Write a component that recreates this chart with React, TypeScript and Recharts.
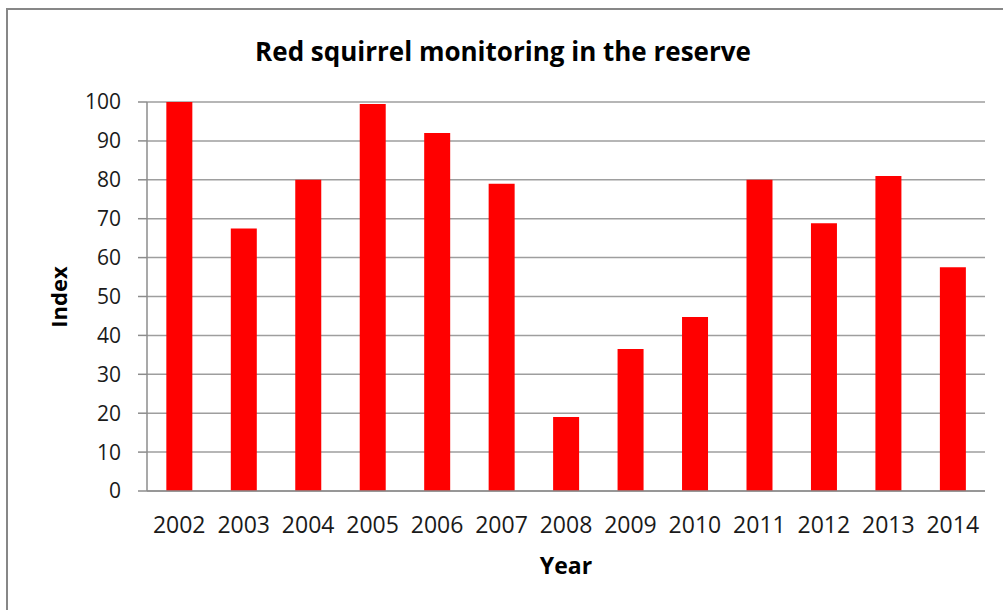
import React from "react";
import { BarChart, Bar, XAxis, YAxis, CartesianGrid } from "recharts";

// Survey years and the annual population index
const years = ["2002", "2003", "2004", "2005", "2006", "2007", "2008", "2009", "2010", "2011", "2012", "2013", "2014"];
const indexValues = [100, 67.5, 80, 99.5, 92, 79, 19, 36.5, 44.7, 80, 68.8, 81, 57.5];
const yTicks = [0, 10, 20, 30, 40, 50, 60, 70, 80, 90, 100];
// Category boundaries, where the tick marks of the x axis sit
const boundaryTicks = [0, 1, 2, 3, 4, 5, 6, 7, 8, 9, 10, 11, 12, 13];

const data = years.map((year, i) => ({ year, index: indexValues[i], pos: i + 0.5 }));

const FONT = "'Open Sans', 'Noto Sans', sans-serif";
const AXIS_GREY = "#8c8c8c";
const GRID_GREY = "#9e9e9e";

export default function App() {
  return (
    <div style={{ position: "absolute", left: 0, top: 0, width: 1003, height: 610, overflow: "hidden", background: "#fff" }}>
      {/* chart frame */}
      <div
        style={{
          position: "absolute",
          left: 6,
          top: 8,
          width: 1100,
          height: 700,
          border: "2px solid #878787",
          boxSizing: "border-box",
        }}
      />
      <div style={{ position: "absolute", left: 0, top: 0 }}>
        <BarChart
          width={1003}
          height={610}
          data={data}
          margin={{ top: 102, right: 18, bottom: 89, left: 87 }}
          barCategoryGap="30%"
        >
          <CartesianGrid vertical={false} stroke={GRID_GREY} strokeWidth={1.5} />
          <XAxis
            dataKey="year"
            xAxisId="cat"
            height={30}
            axisLine={{ stroke: AXIS_GREY, strokeWidth: 1.5 }}
            tickLine={false}
            tickSize={6}
            tickMargin={20}
            interval={0}
            tick={{ fill: "#1a1a1a", fontSize: 23, fontFamily: FONT }}
          />
          <XAxis
            xAxisId="bounds"
            type="number"
            dataKey="pos"
            domain={[0, 13]}
            ticks={boundaryTicks}
            height={0}
            axisLine={false}
            tick={false}
            tickLine={{ stroke: AXIS_GREY, strokeWidth: 1.5 }}
            tickSize={7}
            allowDataOverflow
          />
          <YAxis
            width={60}
            domain={[0, 100]}
            ticks={yTicks}
            interval={0}
            axisLine={{ stroke: AXIS_GREY, strokeWidth: 1.5 }}
            tickLine={{ stroke: AXIS_GREY, strokeWidth: 1.5 }}
            tickSize={9}
            tickMargin={17}
            tick={{ fill: "#1a1a1a", fontSize: 21, fontFamily: FONT }}
          />
          <Bar dataKey="index" xAxisId="cat" fill="#ff0000" isAnimationActive={false} />
        </BarChart>
      </div>
      {/* titles */}
      <svg width={1003} height={610} style={{ position: "absolute", left: 0, top: 0, pointerEvents: "none" }}>
        <text x={503} y={61} textAnchor="middle" fontFamily={FONT} fontWeight={700} fontSize={26} fill="#000">
          Red squirrel monitoring in the reserve
        </text>
        <text x={566} y={574} textAnchor="middle" fontFamily={FONT} fontWeight={700} fontSize={23} fill="#000">
          Year
        </text>
        <text
          transform="translate(67,297) rotate(-90)"
          textAnchor="middle"
          fontFamily={FONT}
          fontWeight={700}
          fontSize={22}
          fill="#000"
        >
          Index
        </text>
      </svg>
    </div>
  );
}
